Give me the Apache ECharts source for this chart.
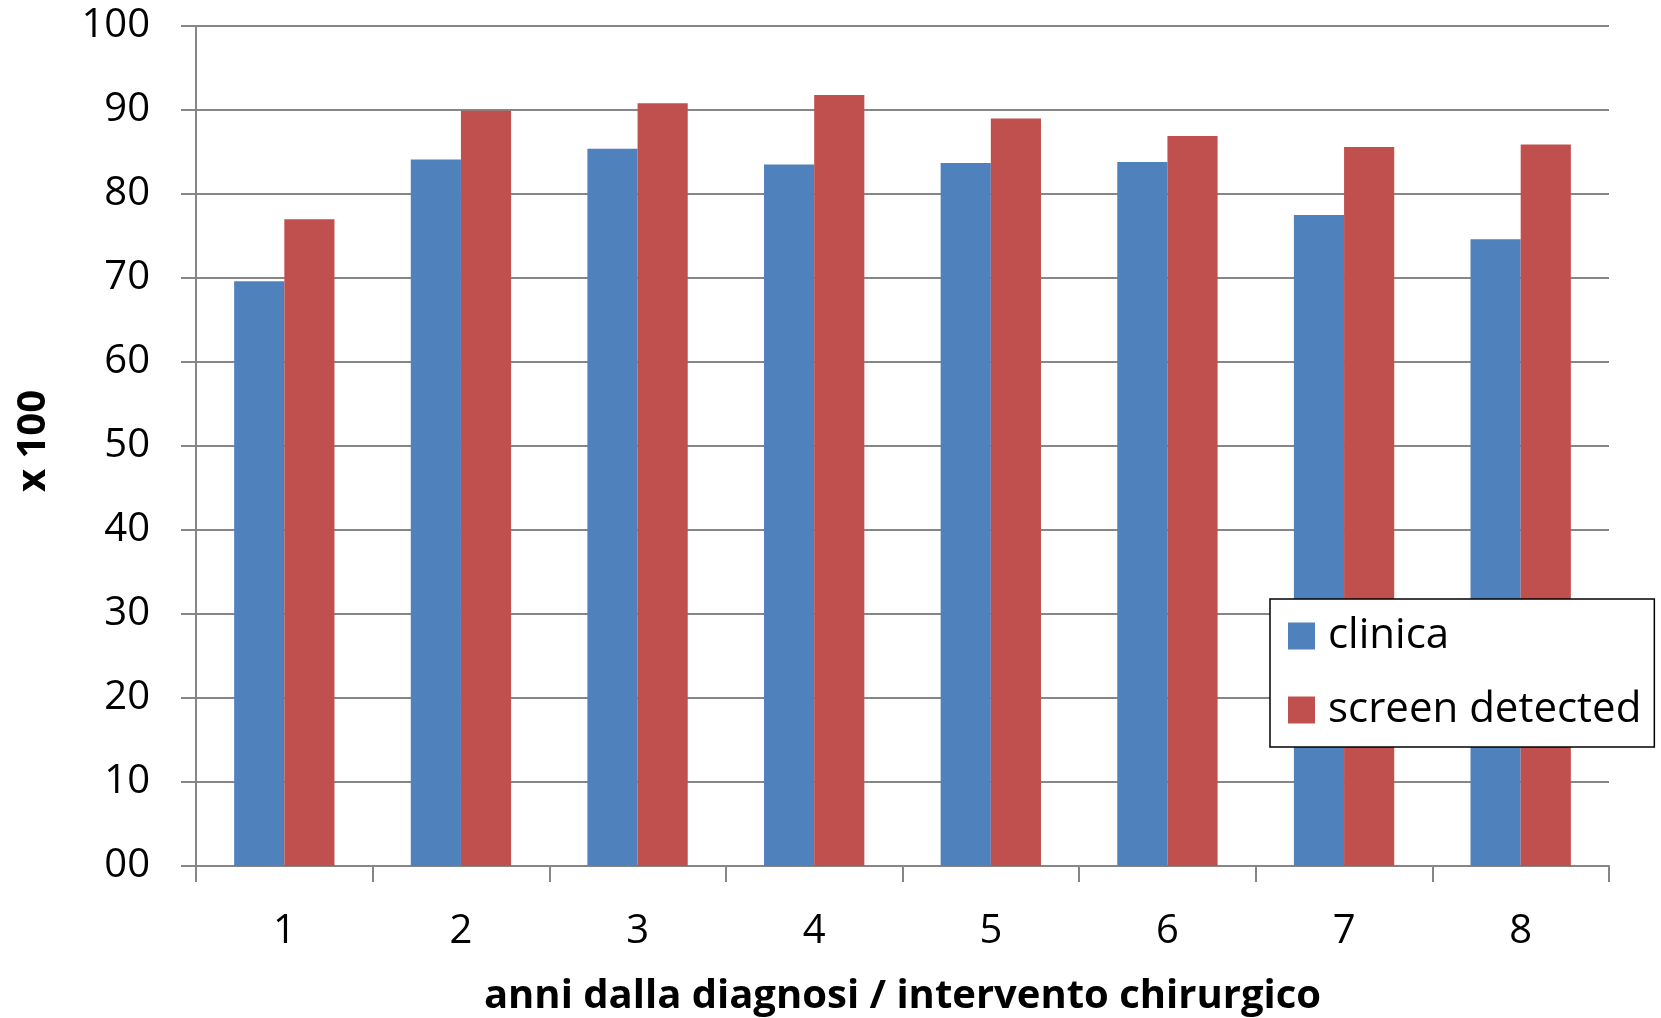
<!DOCTYPE html>
<html>
<head>
<meta charset="utf-8">
<script src="https://cdn.jsdelivr.net/npm/echarts@6/dist/echarts.min.js"></script>
<style>
html,body{margin:0;padding:0;background:#fff;}
#chart{width:1661px;height:1018px;}
</style>
</head>
<body>
<div id="chart"></div>
<script>
const categories = ['1','2','3','4','5','6','7','8'];
const clinica = [69.6, 84.1, 85.4, 83.5, 83.7, 83.8, 77.5, 74.6];
const screenDetected = [77.0, 89.9, 90.8, 91.8, 89.0, 86.9, 85.6, 85.9];
const seriesNames = ['clinica', 'screen detected'];
const xTitle = 'anni dalla diagnosi / intervento chirurgico';
const yTitle = 'x 100';

const FONT = '"Open Sans", "Noto Sans", sans-serif';
const gridColor = '#868686';

const chart = echarts.init(document.getElementById('chart'), null, {renderer: 'canvas'});
chart.setOption({
  animation: false,
  backgroundColor: '#ffffff',
  textStyle: {fontFamily: FONT, color: '#000'},
  grid: {left: 196, right: 52, top: 26, bottom: 152, containLabel: false, outerBoundsMode: 'none'},
  legend: {
    orient: 'vertical',
    left: 1270,
    top: 599,
    padding: [16, 13, 16, 18],
    backgroundColor: '#ffffff',
    borderColor: '#000000',
    borderWidth: 1.5,
    borderRadius: 0,
    itemWidth: 27,
    itemHeight: 27,
    itemGap: 32,
    icon: 'rect',
    textStyle: {fontFamily: FONT, fontSize: 42, color: '#000', padding: [0, 0, 0, 8]},
    data: seriesNames
  },
  xAxis: {
    type: 'category',
    data: categories,
    name: xTitle,
    nameLocation: 'middle',
    nameGap: 111,
    nameTextStyle: {fontFamily: FONT, fontSize: 40, fontWeight: 'bold', color: '#000'},
    axisLine: {show: true, lineStyle: {color: gridColor, width: 2}},
    axisTick: {show: true, length: 16, lineStyle: {color: gridColor, width: 2}},
    axisLabel: {fontFamily: FONT, fontSize: 40, color: '#000', margin: 46},
    splitLine: {show: false}
  },
  yAxis: {
    type: 'value',
    min: 0,
    max: 100,
    interval: 10,
    name: yTitle,
    nameLocation: 'middle',
    nameGap: 142,
    nameRotate: 90,
    nameTextStyle: {fontFamily: FONT, fontSize: 40, fontWeight: 'bold', color: '#000', padding: [0, 0, 0, 10]},
    axisLine: {show: true, lineStyle: {color: gridColor, width: 2}},
    axisTick: {show: true, length: 15, lineStyle: {color: gridColor, width: 2}},
    axisLabel: {
      fontFamily: FONT, fontSize: 40, color: '#000', margin: 46,
      formatter: v => (v < 10 ? '0' + v : String(v))
    },
    splitLine: {show: true, lineStyle: {color: gridColor, width: 2}}
  },
  series: [
    {
      name: seriesNames[0],
      type: 'bar',
      data: clinica,
      barWidth: '28.4%',
      barGap: '0%',
      itemStyle: {color: '#4F81BD'}
    },
    {
      name: seriesNames[1],
      type: 'bar',
      data: screenDetected,
      barWidth: '28.4%',
      barGap: '0%',
      itemStyle: {color: '#C0504D'}
    }
  ]
});
</script>
</body>
</html>
